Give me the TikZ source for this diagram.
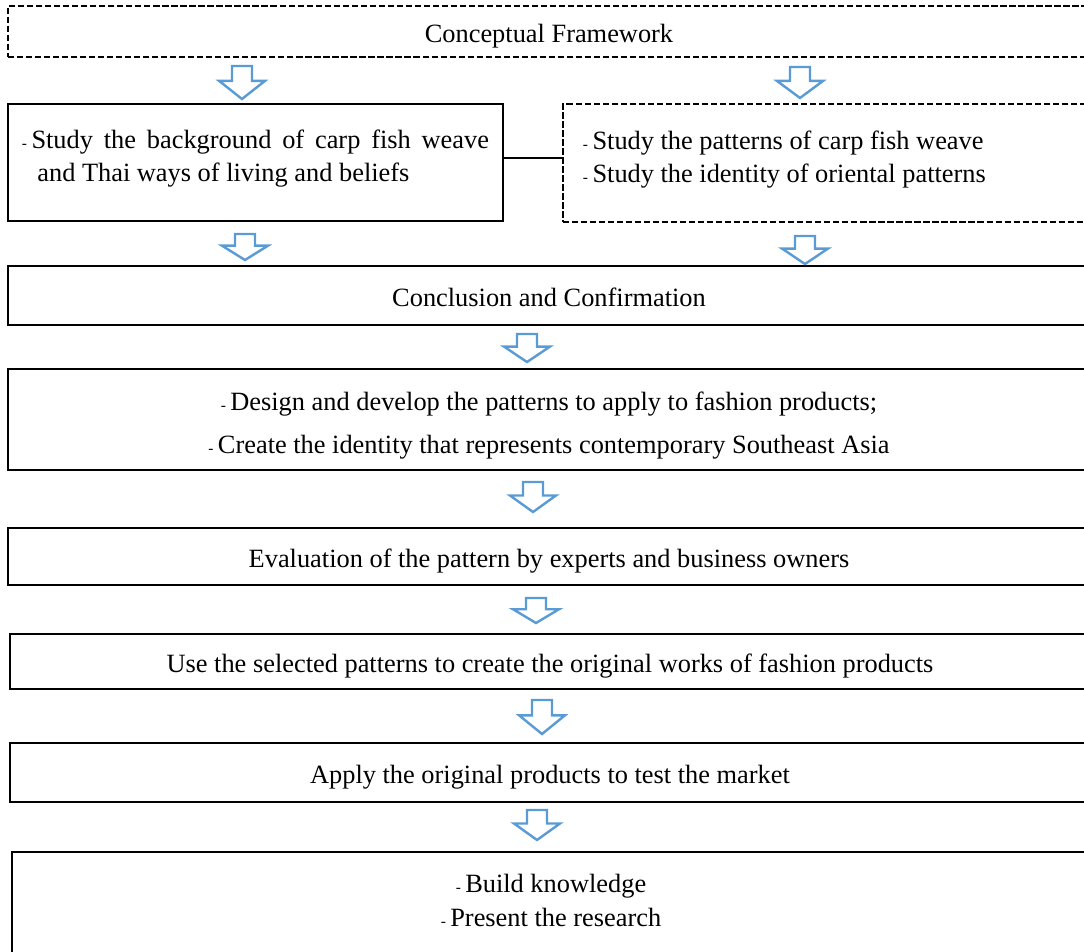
\documentclass[tikz,border=0pt]{standalone}
\usepackage{fontspec}
\setmainfont{Liberation Serif}
\definecolor{arrowblue}{RGB}{91,155,213}
\newcommand{\pxu}{0.455pt}
\newcommand{\itemdash}{{\fontsize{7}{7}\selectfont -}\,}
\tikzset{
	box/.style={draw, line width=0.9pt, inner sep=0pt, font=\fontsize{12}{15}\selectfont},
	oneline/.style={box, text height=12.3pt, text depth=2.6pt},
	dashbox/.style={dash pattern=on 2.8pt off 1.3pt},
	arrowline/.style={draw=arrowblue, line width=1.1pt, fill=white},
	pics/downarrow/.style={code={
		\draw[arrowline] (-10,0) -- (10,0) -- (10,{0.45*#1}) -- (23,{0.45*#1}) -- (0,#1) -- (-23,{0.45*#1}) -- (-10,{0.45*#1}) -- cycle;
	}},
}
\begin{document}
\begin{tikzpicture}[x=\pxu, y=-\pxu]
				\useasboundingbox (0,0) rectangle (1084,952);
				\clip (0,0) rectangle (1084,952);
				
				\node[oneline, dashbox, minimum width=1082*\pxu, minimum height=51*\pxu] (frame) at (549,31.5) {Conceptual Framework};
				\node[box, minimum width=495*\pxu, minimum height=117*\pxu, align=left, text depth=5.9pt] (bg) at (255.5,162.5) {\makebox[212.5pt][s]{\itemdash Study the background of carp fish weave}\\ \hspace*{7pt}and Thai ways of living and beliefs};
				\node[box, dashbox, minimum width=239.8pt, minimum height=118*\pxu, inner xsep=9.1pt, text width=221.6pt, align=flush left, text depth=20.4pt] (pat) at (826.5,163) {\itemdash Study the patterns of carp fish weave\\ \itemdash Study the identity of oriental patterns};
				\node[oneline, minimum width=1082*\pxu, minimum height=59*\pxu] (concl) at (549,295.5) {Conclusion and Confirmation};
				\node[box, minimum width=1082*\pxu, minimum height=101*\pxu, align=center, text height=33.3pt, text depth=2.6pt] (design) at (549,419.5) {\itemdash Design and develop the patterns to apply to fashion products;\\[4.6pt] \itemdash Create the identity that represents contemporary Southeast Asia};
				\node[oneline, minimum width=1082*\pxu, minimum height=57*\pxu] (eval) at (549,556.5) {Evaluation of the pattern by experts and business owners};
				\node[oneline, minimum width=1080*\pxu, minimum height=55*\pxu] (use) at (550,661.5) {Use the selected patterns to create the original works of fashion products};
				\node[oneline, minimum width=1080*\pxu, minimum height=59*\pxu] (apply) at (550,772.5) {Apply the original products to test the market};
				\node[box, minimum width=1078*\pxu, minimum height=133*\pxu, align=center, text depth=16.8pt] (know) at (551,918.5) {\itemdash Build knowledge\\[0.5pt] \itemdash Present the research};
				
				\draw[line width=0.9pt] ([yshift=2pt]bg.east) -- ([yshift=2pt]bg.east -| pat.west);
				
				\pic (a1) at (242,66) {downarrow=33};
				\pic (a2) at (800,67) {downarrow=31};
				\pic (a3) at (245,234) {downarrow=26};
				\pic (a4) at (805,236) {downarrow=28};
				\pic (a5) at (527,334) {downarrow=28};
				\pic (a6) at (533,482) {downarrow=30};
				\pic (a7) at (536,598) {downarrow=25};
				\pic (a8) at (542,700) {downarrow=34};
				\pic (a9) at (537,810) {downarrow=30};
			\end{tikzpicture}
\end{document}
